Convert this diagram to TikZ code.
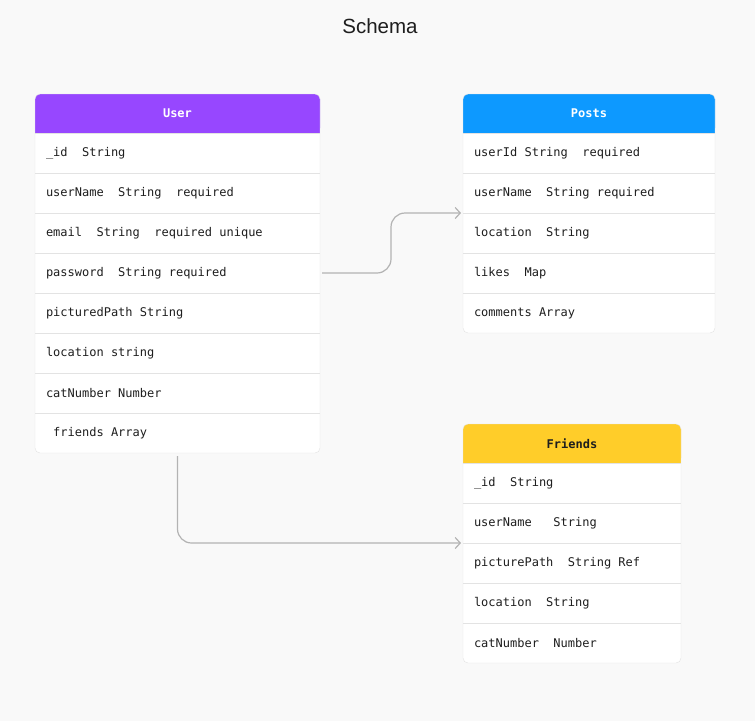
\documentclass[tikz,border=0pt]{standalone}
\usepackage{fontspec}
\setmainfont{Liberation Sans}
\newfontfamily\tabfont{DejaVu Sans Mono}
\usetikzlibrary{positioning,arrows.meta,backgrounds}

\definecolor{usercol}{HTML}{9747FF}
\definecolor{postcol}{HTML}{0D99FF}
\definecolor{friendcol}{HTML}{FFCD29}
\definecolor{gridcol}{HTML}{E3E3E3}
\definecolor{bgcol}{HTML}{F9F9F9}
\definecolor{linkcol}{HTML}{B3B3B3}
\definecolor{inkcol}{HTML}{1E1E1E}

% fixed width spaces for the monospaced table text
\newcommand\monospaces{\fontdimen2\font=0.602em\fontdimen3\font=0pt\fontdimen4\font=0pt}

\tikzset{
  tblhead/.style={minimum height=39pt, text width=#1, inner xsep=11pt, inner ysep=0pt,
    outer sep=0pt, align=center, font={\tabfont\fontsize{12}{14}\selectfont\bfseries\monospaces}},
  tblrow/.style={minimum height=40pt, text width=#1, inner xsep=11pt, inner ysep=0pt,
    outer sep=0pt, align=left, text=inkcol, font={\tabfont\fontsize{12}{14}\selectfont\monospaces},
    execute at begin node={\spaceskip=0pt\xspaceskip=0pt\relax}},
  link/.style={draw=linkcol, line width=1.2pt, rounded corners=14pt,
    -{Straight Barb[length=5pt,width=11pt]}, shorten >=2pt, shorten <=2pt}
}

\begin{document}
\begin{tikzpicture}[x=1pt, y=-1pt, node distance=0pt]

\useasboundingbox (0,0) rectangle (755,721);

%%%  title
\node [text=inkcol, font=\fontsize{20.5}{24}\selectfont] (title) at (380,26) {Schema};

%%%  tables

% user
\node [tblhead=263pt, text=white, anchor=north west] (user) at (35,94) {User};
\node [tblrow=263pt, below=of user] (user-1) {\_id~~String};
\node [tblrow=263pt, below=of user-1] (user-2) {userName~~String~~required};
\node [tblrow=263pt, below=of user-2] (user-3) {email~~String~~required unique};
\node [tblrow=263pt, below=of user-3] (user-4) {password~~String required};
\node [tblrow=263pt, below=of user-4] (user-5) {picturedPath String};
\node [tblrow=263pt, below=of user-5] (user-6) {location string};
\node [tblrow=263pt, below=of user-6] (user-7) {catNumber Number};
\node [tblrow=263pt, below=of user-7] (user-8) {~friends Array};

% posts
\node [tblhead=230pt, text=white, anchor=north west] (posts) at (463,94) {Posts};
\node [tblrow=230pt, below=of posts] (posts-1) {userId String~~required};
\node [tblrow=230pt, below=of posts-1] (posts-2) {userName~~String required};
\node [tblrow=230pt, below=of posts-2] (posts-3) {location~~String};
\node [tblrow=230pt, below=of posts-3] (posts-4) {likes~~Map};
\node [tblrow=230pt, below=of posts-4] (posts-5) {comments Array};

% friends
\node [tblhead=196pt, text=inkcol, anchor=north west] (friends) at (463,424) {Friends};
\node [tblrow=196pt, below=of friends] (friends-1) {\_id~~String};
\node [tblrow=196pt, below=of friends-1] (friends-2) {userName~~~String};
\node [tblrow=196pt, below=of friends-2] (friends-3) {picturePath~~String Ref};
\node [tblrow=196pt, below=of friends-3] (friends-4) {location~~String};
\node [tblrow=196pt, below=of friends-4] (friends-5) {catNumber~~Number};

%%%  fills

\begin{scope}[on background layer]
\fill [bgcol] (0,0) rectangle (755,721);

\fill [white, rounded corners=5pt] (user.north west) rectangle (user-8.south east);
\fill [usercol, rounded corners=5pt] (user.north west) rectangle (user.south east);
\fill [usercol] (user.west) rectangle (user.south east);

\fill [white, rounded corners=5pt] (posts.north west) rectangle (posts-5.south east);
\fill [postcol, rounded corners=5pt] (posts.north west) rectangle (posts.south east);
\fill [postcol] (posts.west) rectangle (posts.south east);

\fill [white, rounded corners=5pt] (friends.north west) rectangle (friends-5.south east);
\fill [friendcol, rounded corners=5pt] (friends.north west) rectangle (friends.south east);
\fill [friendcol] (friends.west) rectangle (friends.south east);
\end{scope}

%%%  grid lines

% user
\draw [gridcol] (user.south west) -- (user.south east);
\draw [gridcol] (user-1.south west) -- (user-1.south east);
\draw [gridcol] (user-2.south west) -- (user-2.south east);
\draw [gridcol] (user-3.south west) -- (user-3.south east);
\draw [gridcol] (user-4.south west) -- (user-4.south east);
\draw [gridcol] (user-5.south west) -- (user-5.south east);
\draw [gridcol] (user-6.south west) -- (user-6.south east);
\draw [gridcol] (user-7.south west) -- (user-7.south east);
\draw [gridcol, rounded corners=5pt] (user.north west) rectangle (user-8.south east);

% posts
\draw [gridcol] (posts.south west) -- (posts.south east);
\draw [gridcol] (posts-1.south west) -- (posts-1.south east);
\draw [gridcol] (posts-2.south west) -- (posts-2.south east);
\draw [gridcol] (posts-3.south west) -- (posts-3.south east);
\draw [gridcol] (posts-4.south west) -- (posts-4.south east);
\draw [gridcol, rounded corners=5pt] (posts.north west) rectangle (posts-5.south east);

% friends
\draw [gridcol] (friends.south west) -- (friends.south east);
\draw [gridcol] (friends-1.south west) -- (friends-1.south east);
\draw [gridcol] (friends-2.south west) -- (friends-2.south east);
\draw [gridcol] (friends-3.south west) -- (friends-3.south east);
\draw [gridcol] (friends-4.south west) -- (friends-4.south east);
\draw [gridcol, rounded corners=5pt] (friends.north west) rectangle (friends-5.south east);

%%%  links
\coordinate (bend) at (391,243);
\draw [link] (user-4.east) -| (bend) |- (posts-2.south west);
\draw [link, shorten <=3pt] (user-8.south) |- (friends-2.south west);

\end{tikzpicture}
\end{document}
